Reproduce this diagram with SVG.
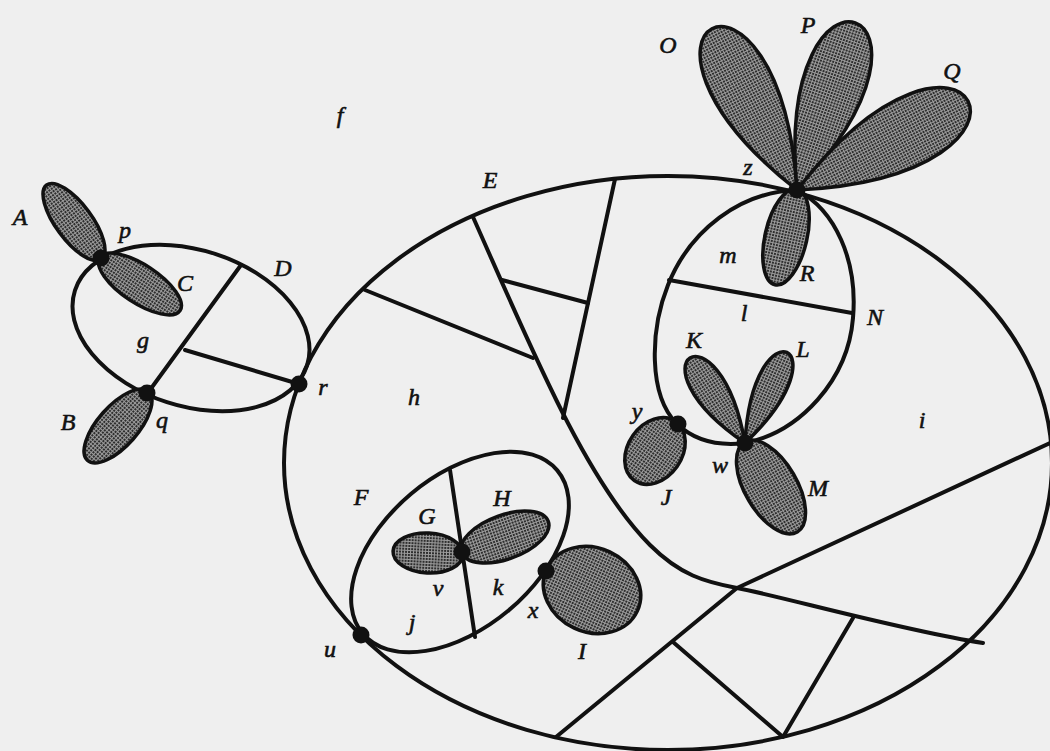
<svg xmlns="http://www.w3.org/2000/svg" width="1050" height="751" viewBox="0 0 1050 751">
<defs>
<pattern id="dots" width="3" height="3" patternUnits="userSpaceOnUse">
<rect width="3" height="3" fill="#9c9c9c"/>
<rect width="2" height="2" fill="#2e2e2e"/>
</pattern>
<style>
.ln{fill:none;stroke:#111;stroke-width:4;stroke-linecap:round;stroke-linejoin:round}
.pt{fill:url(#dots);stroke:#111;stroke-width:3.5}
.dot{fill:#111}
.lb{font-family:"Liberation Serif","Times New Roman",serif;font-style:italic;font-size:24px;fill:#111;stroke:#111;stroke-width:0.6;text-anchor:middle}
</style>
</defs>
<rect width="1050" height="751" fill="#efefef"/>

<g id="connectors">
<ellipse class="ln" cx="668" cy="463" rx="384" ry="287"/>
<path class="ln" d="M473,217 C530,345 585,480 650,545 C680,575 705,582 737,588 C780,596 900,630 983,643"/>
<path class="ln" d="M365,290 L533,358"/>
<path class="ln" d="M502,280 L588,303"/>
<path class="ln" d="M615,179 L563,418"/>
<path class="ln" d="M556,737 L737,588 L1050,443"/>
<path class="ln" d="M673,642 L783,737 L853,618"/>
<ellipse class="ln" cx="191" cy="328" rx="122" ry="78" transform="rotate(18 191 328)"/>
<path class="ln" d="M241,265 L147,394"/>
<path class="ln" d="M185,350 L299,384"/>
<path class="ln" d="M797,190 C740,192 690,230 668,285 C650,330 648,395 677,424 C695,441 720,446 745,443 C800,432 848,380 853,318 C858,260 835,210 797,190 Z"/>
<path class="ln" d="M669,280 L852,313"/>
<ellipse class="ln" cx="460" cy="552" rx="127" ry="76" transform="rotate(-40 460 552)"/>
<path class="ln" d="M450,470 L475,637"/>
</g>

<g id="petals-z">
<path class="pt" transform="translate(797,190) rotate(-117.8)" d="M0,0 C243,108 243,-108 0,0 Z"/>
<path class="pt" transform="translate(797,190) rotate(-70.8)" d="M0,0 C236,108 236,-108 0,0 Z"/>
<path class="pt" transform="translate(797,190) rotate(-27.5)" d="M0,0 C257,118 257,-118 0,0 Z"/>
<ellipse class="pt" cx="786" cy="237" rx="49" ry="21" transform="rotate(103 786 237)"/>
</g>
<g id="petals-w">
<path class="pt" transform="translate(745,443) rotate(-122.9)" d="M0,0 C135,57 135,-57 0,0 Z"/>
<path class="pt" transform="translate(745,443) rotate(-65.2)" d="M0,0 C133,53 133,-53 0,0 Z"/>
<ellipse class="pt" cx="771" cy="487" rx="52" ry="26" transform="rotate(59.7 771 487)"/>
</g>
<g id="petal-J"><ellipse class="pt" cx="655" cy="451" rx="36" ry="27" transform="rotate(-55 655 451)"/></g>
<g id="petals-pq">
<ellipse class="pt" cx="74" cy="222" rx="46" ry="18" transform="rotate(53.5 74 222)"/>
<ellipse class="pt" cx="140" cy="284" rx="48" ry="19" transform="rotate(33.4 140 284)"/>
<ellipse class="pt" cx="118" cy="426" rx="46" ry="20" transform="rotate(131.4 118 426)"/>
</g>
<g id="petals-v">
<ellipse class="pt" cx="428" cy="553" rx="35" ry="20" transform="rotate(3 428 553)"/>
<ellipse class="pt" cx="505" cy="537" rx="46" ry="22" transform="rotate(-19.8 505 537)"/>
</g>
<g id="petal-I"><ellipse class="pt" cx="592" cy="590" rx="50" ry="42" transform="rotate(25 592 590)"/></g>

<g id="vertices">
<circle class="dot" cx="101" cy="258" r="8.5"/>
<circle class="dot" cx="147" cy="393" r="8.5"/>
<circle class="dot" cx="299" cy="384" r="8.5"/>
<circle class="dot" cx="797" cy="190" r="8.5"/>
<circle class="dot" cx="678" cy="424" r="8.5"/>
<circle class="dot" cx="745" cy="443" r="8.5"/>
<circle class="dot" cx="361" cy="635" r="8.5"/>
<circle class="dot" cx="462" cy="552" r="8.5"/>
<circle class="dot" cx="546" cy="571" r="8.5"/>
</g>

<g id="labels">
<text class="lb" x="668" y="53">O</text>
<text class="lb" x="808" y="33">P</text>
<text class="lb" x="952" y="79">Q</text>
<text class="lb" x="340" y="123">f</text>
<text class="lb" x="490" y="188">E</text>
<text class="lb" x="748" y="175">z</text>
<text class="lb" x="20" y="225">A</text>
<text class="lb" x="125" y="238">p</text>
<text class="lb" x="185" y="291">C</text>
<text class="lb" x="283" y="276">D</text>
<text class="lb" x="143" y="348">g</text>
<text class="lb" x="68" y="430">B</text>
<text class="lb" x="162" y="428">q</text>
<text class="lb" x="323" y="395">r</text>
<text class="lb" x="414" y="405">h</text>
<text class="lb" x="728" y="263">m</text>
<text class="lb" x="807" y="281">R</text>
<text class="lb" x="744" y="321">l</text>
<text class="lb" x="875" y="325">N</text>
<text class="lb" x="694" y="348">K</text>
<text class="lb" x="803" y="357">L</text>
<text class="lb" x="637" y="419">y</text>
<text class="lb" x="720" y="473">w</text>
<text class="lb" x="666" y="505">J</text>
<text class="lb" x="818" y="496">M</text>
<text class="lb" x="922" y="428">i</text>
<text class="lb" x="361" y="505">F</text>
<text class="lb" x="427" y="524">G</text>
<text class="lb" x="502" y="506">H</text>
<text class="lb" x="438" y="596">v</text>
<text class="lb" x="498" y="595">k</text>
<text class="lb" x="412" y="630">j</text>
<text class="lb" x="533" y="618">x</text>
<text class="lb" x="330" y="657">u</text>
<text class="lb" x="582" y="659">I</text>
</g>
</svg>
